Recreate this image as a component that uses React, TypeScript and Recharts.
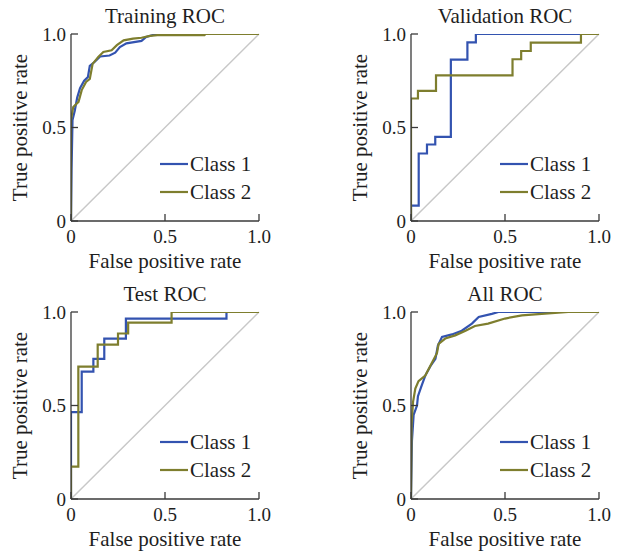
import { LineChart, Line, XAxis, YAxis, ReferenceLine, Legend, Label } from "recharts";

const FONT = '"Liberation Serif", "Times New Roman", serif';

const COLORS = {
  class1: "#3353b0",
  class2: "#7e7e2e",
  chance: "#c8c8c8",
  axis: "#3a3a3a",
  text: "#1e1e1e",
};

// ── data ──

const AXIS_TICKS = [0, 0.5, 1];
const TICK_LABELS = ["0", "0.5", "1.0"];

const trainFpr1 = [0, 0.003, 0.008, 0.02, 0.033, 0.048, 0.07, 0.09, 0.1, 0.125, 0.155, 0.205, 0.235, 0.26, 0.295, 0.375, 0.4, 0.455, 1];
const trainTpr1 = [0, 0.27, 0.54, 0.59, 0.66, 0.71, 0.75, 0.77, 0.83, 0.85, 0.88, 0.885, 0.9, 0.93, 0.95, 0.963, 0.984, 1, 1];
const trainFpr2 = [0, 0, 0.012, 0.04, 0.057, 0.08, 0.1, 0.115, 0.145, 0.172, 0.216, 0.244, 0.28, 0.33, 0.375, 0.42, 0.46, 0.71, 0.715, 1];
const trainTpr2 = [0, 0.54, 0.61, 0.637, 0.7, 0.744, 0.76, 0.84, 0.877, 0.904, 0.913, 0.94, 0.966, 0.975, 0.98, 0.99, 0.994, 0.994, 1, 1];

const valFpr1 = [0, 0.041, 0.085, 0.129, 0.212, 0.3, 0.345, 1];
const valTpr1 = [0, 0.082, 0.361, 0.409, 0.45, 0.863, 0.955, 1];
const valFpr2 = [0, 0.037, 0.133, 0.54, 0.586, 0.637, 0.904, 1];
const valTpr2 = [0, 0.655, 0.696, 0.779, 0.865, 0.909, 0.954, 1];

const testFpr1 = [0, 0.057, 0.119, 0.177, 0.292, 0.827, 1];
const testTpr1 = [0, 0.465, 0.681, 0.749, 0.858, 0.965, 1];
const testFpr2 = [0, 0.039, 0.142, 0.25, 0.304, 0.535, 1];
const testTpr2 = [0, 0.173, 0.708, 0.826, 0.885, 0.943, 1];

const allFpr1 = [0, 0.005, 0.014, 0.032, 0.037, 0.058, 0.076, 0.103, 0.13, 0.143, 0.165, 0.218, 0.27, 0.324, 0.36, 0.43, 0.465, 1];
const allTpr1 = [0, 0.31, 0.45, 0.5, 0.55, 0.61, 0.66, 0.71, 0.75, 0.82, 0.867, 0.88, 0.9, 0.938, 0.973, 0.99, 1, 1];
const allFpr2 = [0, 0.003, 0.011, 0.023, 0.04, 0.076, 0.11, 0.138, 0.147, 0.182, 0.235, 0.29, 0.34, 0.41, 0.5, 0.59, 0.713, 0.837, 1];
const allTpr2 = [0, 0.4, 0.52, 0.59, 0.63, 0.66, 0.726, 0.78, 0.83, 0.858, 0.875, 0.9, 0.925, 0.938, 0.965, 0.982, 0.991, 1, 1];

const zip = (xs: number[], ys: number[]) => xs.map((x, i) => ({ x, y: ys[i] }));

// ── layout ──

const PLOT_W = 188;
const PLOT_H = 187;
// axes are 1px thick so they still render; margins compensate
const M = { top: 40, right: 30, bottom: 59, left: 71 };
const PLOT_LEFT = M.left + 1;
const W = PLOT_W + M.left + 1 + M.right;
const H = PLOT_H + M.top + M.bottom + 1;

function XTick({ x, y, payload, index }: any) {
  return (
    <g>
      <line x1={x} y1={y} x2={x} y2={y - 7} stroke={COLORS.axis} strokeWidth={1.3} />
      <text x={x} y={y + 22} textAnchor="middle" fontFamily={FONT} fontSize={19} fill={COLORS.text}>
        {TICK_LABELS[AXIS_TICKS.indexOf(payload.value)] ?? index}
      </text>
    </g>
  );
}

function YTick({ x, y, payload, index }: any) {
  return (
    <g>
      <line x1={x} y1={y} x2={x + 7} y2={y} stroke={COLORS.axis} strokeWidth={1.3} />
      <text x={x - 5} y={y} dy="0.35em" textAnchor="end" fontFamily={FONT} fontSize={19} fill={COLORS.text}>
        {TICK_LABELS[AXIS_TICKS.indexOf(payload.value)] ?? index}
      </text>
    </g>
  );
}

function RocLegend({ payload }: any) {
  const items = (payload || []).filter((p: any) => p.type !== "none");
  return (
    <div>
      {items.map((p: any) => (
        <div key={p.value} style={{ display: "flex", alignItems: "center", height: 28 }}>
          <svg width={30} height={4} style={{ display: "block" }}>
            <line x1={0} y1={2} x2={28} y2={2} stroke={p.color} strokeWidth={2.2} />
          </svg>
          <span style={{ fontFamily: FONT, fontSize: 21, lineHeight: "21px", color: COLORS.text }}>{p.value}</span>
        </div>
      ))}
    </div>
  );
}

interface PanelProps {
  title: string;
  c1: { x: number; y: number }[];
  c2: { x: number; y: number }[];
  curve: "linear" | "stepBefore";
  left: number;
  top: number;
}

function RocPanel({ title, c1, c2, curve, left, top }: PanelProps) {
  return (
    <div style={{ position: "absolute", left, top, width: W, height: H }}>
      <div
        style={{
          position: "absolute",
          left: PLOT_LEFT,
          width: PLOT_W,
          top: M.top - 28,
          textAlign: "center",
          fontFamily: FONT,
          fontSize: 21,
          lineHeight: "21px",
          color: COLORS.text,
          whiteSpace: "nowrap",
        }}
      >
        {title}
      </div>
      <LineChart width={W} height={H} margin={M}>
        <XAxis
          type="number"
          dataKey="x"
          domain={[0, 1]}
          ticks={AXIS_TICKS}
          height={1}
          tickSize={0}
          tickMargin={0}
          tickLine={false}
          tick={<XTick />}
          axisLine={{ stroke: COLORS.axis, strokeWidth: 1.3 }}
          allowDataOverflow
        >
          <Label
            content={({ viewBox }: any) => (
              <text
                x={viewBox.x + viewBox.width / 2}
                y={viewBox.y + 47}
                textAnchor="middle"
                fontFamily={FONT}
                fontSize={21}
                fill={COLORS.text}
              >
                False positive rate
              </text>
            )}
          />
        </XAxis>
        <YAxis
          type="number"
          dataKey="y"
          domain={[0, 1]}
          ticks={AXIS_TICKS}
          width={1}
          tickSize={0}
          tickMargin={0}
          tickLine={false}
          tick={<YTick />}
          axisLine={{ stroke: COLORS.axis, strokeWidth: 1.3 }}
          allowDataOverflow
        >
          <Label
            content={({ viewBox }: any) => {
              const cx = viewBox.x + viewBox.width - 44;
              const cy = viewBox.y + viewBox.height / 2;
              return (
                <text
                  x={cx}
                  y={cy}
                  transform={`rotate(-90 ${cx} ${cy})`}
                  textAnchor="middle"
                  fontFamily={FONT}
                  fontSize={21}
                  fill={COLORS.text}
                >
                  True positive rate
                </text>
              );
            }}
          />
        </YAxis>
        <ReferenceLine
          segment={[
            { x: 0, y: 0 },
            { x: 1, y: 1 },
          ]}
          stroke={COLORS.chance}
          strokeWidth={1.5}
        />
        <Line
          data={c1}
          dataKey="y"
          name="Class 1"
          type={curve}
          stroke={COLORS.class1}
          strokeWidth={2.2}
          dot={false}
          isAnimationActive={false}
        />
        <Line
          data={c2}
          dataKey="y"
          name="Class 2"
          type={curve}
          stroke={COLORS.class2}
          strokeWidth={2.2}
          dot={false}
          isAnimationActive={false}
        />
        <Legend
          content={<RocLegend />}
          layout="horizontal"
          verticalAlign="middle"
          align="center"
          wrapperStyle={{ left: PLOT_LEFT + 89, top: M.top + 130 - 14, width: "auto", height: "auto" }}
        />
      </LineChart>
    </div>
  );
}

export default function App() {
  return (
    <div style={{ position: "absolute", left: 0, top: 0, width: 624, height: 551, background: "#fff", overflow: "hidden" }}>
      <RocPanel title="Training ROC" c1={zip(trainFpr1, trainTpr1)} c2={zip(trainFpr2, trainTpr2)} curve="linear" left={71 - PLOT_LEFT} top={34 - M.top} />
      <RocPanel title="Validation ROC" c1={zip(valFpr1, valTpr1)} c2={zip(valFpr2, valTpr2)} curve="stepBefore" left={411 - PLOT_LEFT} top={34 - M.top} />
      <RocPanel title="Test ROC" c1={zip(testFpr1, testTpr1)} c2={zip(testFpr2, testTpr2)} curve="stepBefore" left={71 - PLOT_LEFT} top={312 - M.top} />
      <RocPanel title="All ROC" c1={zip(allFpr1, allTpr1)} c2={zip(allFpr2, allTpr2)} curve="linear" left={411 - PLOT_LEFT} top={312 - M.top} />
    </div>
  );
}
